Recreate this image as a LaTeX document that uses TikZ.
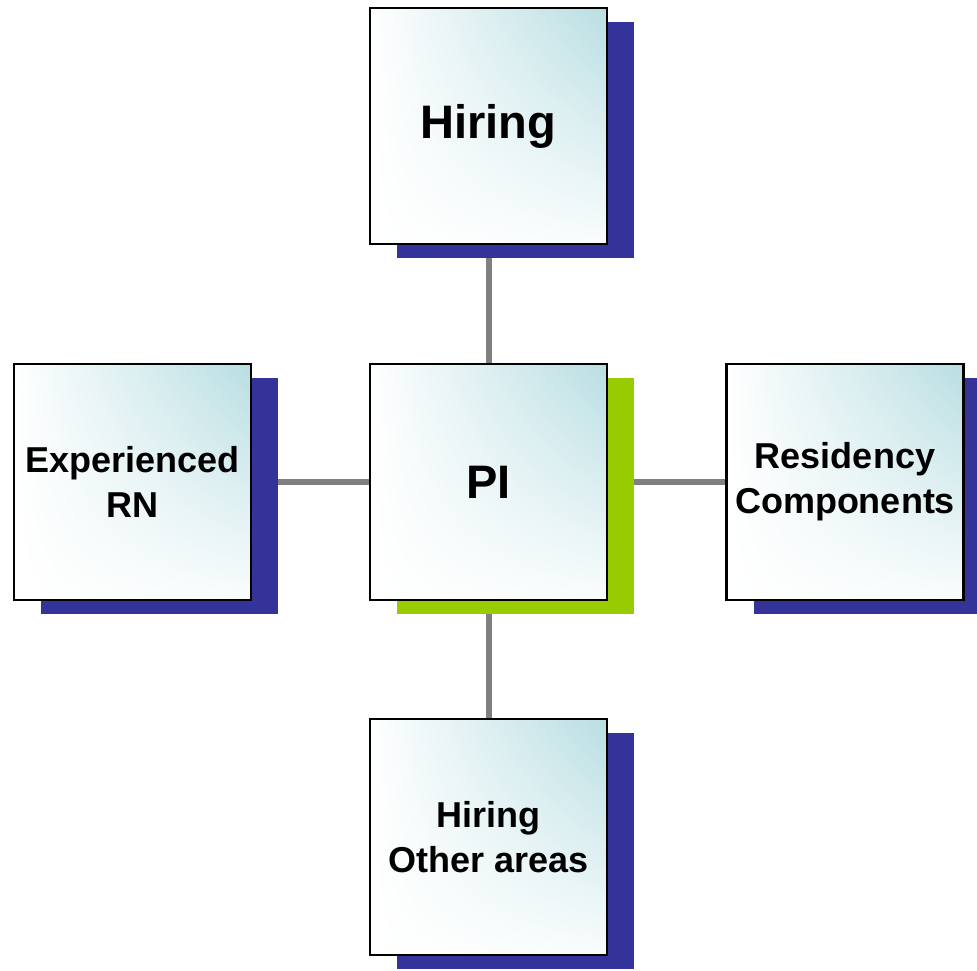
\documentclass[tikz,border=0pt]{standalone}
\usepackage{fontspec}
\setmainfont{Liberation Sans}
\usetikzlibrary{shadows,backgrounds,shadings}
\definecolor{teal1}{RGB}{184,222,226}
\definecolor{sblue}{RGB}{51,51,153}
\definecolor{sgreen}{RGB}{153,204,0}
\definecolor{conn}{RGB}{128,128,128}
\tikzset{
  card/.style={draw=black, line width=2.6pt, minimum width=237pt, minimum height=236pt,
    inner sep=0pt, align=center, text=black,
    upper left=white, upper right=teal1, lower left=white, lower right=white!92!teal1},
  blueshadow/.style={drop shadow={shadow xshift=27pt, shadow yshift=-14pt, fill=sblue, opacity=1}},
  greenshadow/.style={drop shadow={shadow xshift=27pt, shadow yshift=-14pt, fill=sgreen, opacity=1}},
  big/.style={font=\bfseries\fontsize{47}{56}\selectfont},
  small/.style={font=\bfseries\fontsize{36}{45}\selectfont},
  link/.style={draw=conn, line width=6pt}
}
\begin{document}
\begin{tikzpicture}[x=1pt,y=-1pt]
\useasboundingbox (0,0) rectangle (977,971);
\node[card, blueshadow, big]   (hire) at (488.5,126) {Hiring};
\node[card, greenshadow, big]  (pi)   at (488.5,482) {PI};
\node[card, blueshadow, small] (exp)  at (132.5,482) {Experienced\\RN};
\node[card, blueshadow, small] (res)  at (845,482) {Residency\\Components};
\node[card, blueshadow, small] (oth)  at (488.5,837) {Hiring\\Other areas};
\begin{pgfonlayer}{background}
\draw[link] (hire) -- (pi);
\draw[link] (pi) -- (oth);
\draw[link] (exp) -- (pi);
\draw[link] (pi) -- (res);
\end{pgfonlayer}
\end{tikzpicture}
\end{document}
